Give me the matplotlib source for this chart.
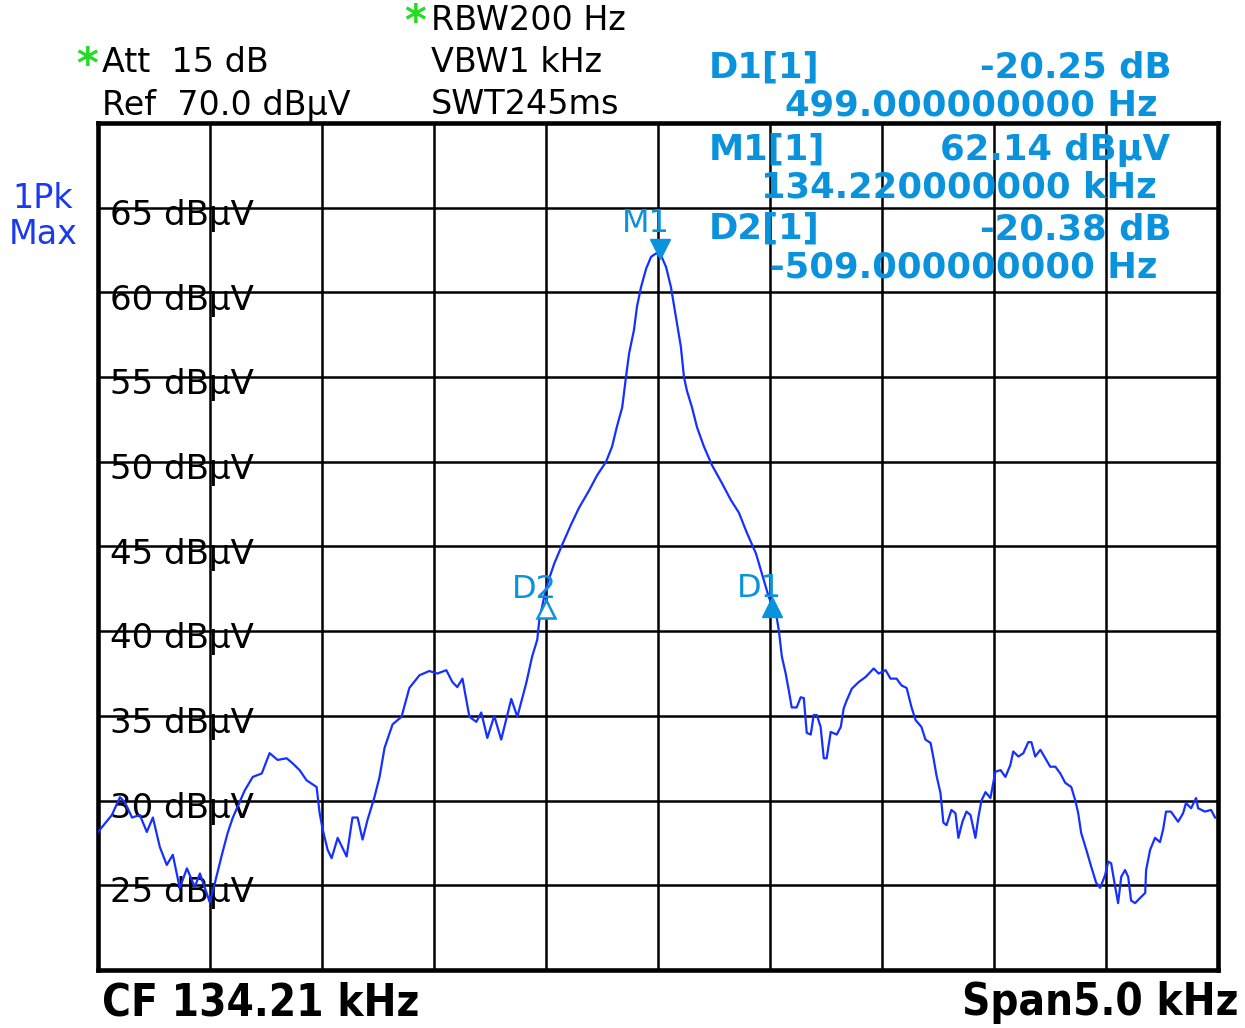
import matplotlib
matplotlib.use("Agg")
import matplotlib.pyplot as plt
import numpy as np

# ---- data ----
center_khz = 134.21
span_khz = 5.0
ref_level = 70.0
y_bottom = 20.0

freq_khz = [
    131.710, 131.772, 131.808, 131.830, 131.862, 131.897, 131.928, 131.955, 131.986, 132.017,
    132.044, 132.075, 132.107, 132.142, 132.165, 132.209, 132.231, 132.263, 132.289, 132.312,
    132.365, 132.401, 132.441, 132.476, 132.512, 132.552, 132.579, 132.610, 132.641, 132.686,
    132.699, 132.713, 132.735, 132.753, 132.780, 132.820, 132.846, 132.869, 132.891, 132.913,
    132.944, 132.967, 132.989, 133.025, 133.065, 133.100, 133.145, 133.189, 133.225, 133.265,
    133.292, 133.314, 133.337, 133.368, 133.399, 133.421, 133.448, 133.479, 133.510, 133.555,
    133.582, 133.622, 133.648, 133.671, 133.680, 133.711, 133.747, 133.782, 133.822, 133.858,
    133.902, 133.938, 133.978, 134.005, 134.027, 134.050, 134.067, 134.081, 134.103, 134.116,
    134.134, 134.157, 134.179, 134.201, 134.223, 134.246, 134.268, 134.290, 134.312, 134.326,
    134.339, 134.362, 134.384, 134.415, 134.451, 134.495, 134.535, 134.571, 134.607, 134.647,
    134.674, 134.705, 134.736, 134.749, 134.763, 134.780, 134.794, 134.807, 134.829, 134.847,
    134.861, 134.874, 134.892, 134.905, 134.919, 134.936, 134.950, 134.963, 134.981, 135.008,
    135.026, 135.039, 135.052, 135.075, 135.106, 135.137, 135.173, 135.195, 135.226, 135.248,
    135.275, 135.297, 135.320, 135.342, 135.360, 135.386, 135.404, 135.427, 135.440, 135.453,
    135.471, 135.484, 135.498, 135.520, 135.538, 135.551, 135.569, 135.587, 135.605, 135.627,
    135.640, 135.654, 135.672, 135.694, 135.716, 135.739, 135.761, 135.783, 135.796, 135.819,
    135.841, 135.863, 135.877, 135.894, 135.917, 135.939, 135.961, 135.984, 136.006, 136.028,
    136.055, 136.073, 136.086, 136.099, 136.122, 136.144, 136.166, 136.184, 136.206, 136.220,
    136.233, 136.251, 136.264, 136.278, 136.295, 136.309, 136.322, 136.340, 136.362, 136.385,
    136.389, 136.407, 136.429, 136.451, 136.465, 136.478, 136.500, 136.532, 136.554, 136.567,
    136.590, 136.612, 136.621, 136.652, 136.679, 136.697,
]
level_dbuv = [
    28.15, 29.15, 30.2, 29.9, 29.0, 29.15, 28.15, 29.0, 27.26, 26.2,
    26.8, 24.84, 26.0, 24.9, 25.7, 24.0, 25.1, 26.8, 28.1, 29.0,
    30.6, 31.4, 31.6, 32.8, 32.4, 32.5, 32.2, 31.8, 31.2, 30.8,
    29.3, 28.3, 27.1, 26.6, 27.8, 26.7, 29.0, 29.0, 27.7, 28.85,
    30.2, 31.4, 33.1, 34.5, 34.95, 36.65, 37.4, 37.65, 37.5, 37.7,
    37.0, 36.7, 37.2, 34.95, 34.65, 35.2, 33.7, 35.0, 33.6, 36.0,
    34.95, 36.95, 38.5, 39.5, 40.65, 42.6, 44.0, 45.1, 46.3, 47.3,
    48.3, 49.2, 50.0, 50.9, 52.1, 53.2, 55.0, 56.4, 57.8, 59.15,
    60.3, 61.4, 62.1, 62.3, 62.2, 61.5, 60.3, 58.55, 56.8, 55.0,
    54.2, 53.2, 52.05, 50.9, 49.8, 48.75, 47.75, 47.0, 45.8, 44.6,
    43.4, 42.0, 41.1, 40.1, 38.5, 37.5, 36.5, 35.5, 35.5, 36.1,
    36.05, 34.0, 33.9, 35.05, 35.05, 34.35, 32.5, 32.5, 34.05, 33.9,
    34.35, 35.45, 35.9, 36.6, 37.0, 37.3, 37.8, 37.5, 37.7, 37.2,
    37.2, 36.8, 36.65, 35.5, 34.75, 34.35, 33.6, 33.4, 32.5, 31.5,
    30.45, 28.7, 28.55, 29.45, 29.25, 27.8, 28.75, 29.35, 29.15, 27.8,
    29.0, 30.0, 30.5, 30.15, 31.7, 31.8, 31.4, 32.1, 32.9, 32.6,
    32.8, 33.45, 33.45, 32.6, 33.0, 32.5, 32.0, 32.0, 31.6, 31.05,
    30.8, 30.0, 29.25, 28.1, 27.1, 26.1, 25.15, 24.85, 25.6, 26.4,
    26.3, 24.9, 23.95, 25.5, 25.9, 25.5, 24.1, 23.95, 24.25, 24.55,
    25.9, 27.1, 27.8, 27.55, 28.3, 29.35, 29.35, 28.75, 29.25, 29.85,
    29.55, 30.15, 29.55, 29.35, 29.45, 29.0,
]

ytick_values = [65, 60, 55, 50, 45, 40, 35, 30, 25]
ytick_labels = ["65 dBµV", "60 dBµV", "55 dBµV", "50 dBµV", "45 dBµV",
                "40 dBµV", "35 dBµV", "30 dBµV", "25 dBµV"]

m1_freq, m1_level = 134.220, 62.14
d1_offset_hz, d1_delta = 499.0, -20.25
d2_offset_hz, d2_delta = -509.0, -20.38

# ---- styles ----
TRACE = "#1530FF"
MARK = "#0A93DC"
BLUE_LBL = "#1A3AF0"

W, H = 1245, 1028
fig = plt.figure(figsize=(W/100, H/100), dpi=100)
ax = fig.add_axes([98/W, 58/H, (1218-98)/W, (970-123)/H])

f_start = center_khz - span_khz/2
f_stop = center_khz + span_khz/2
ax.set_xlim(f_start, f_stop)
ax.set_ylim(y_bottom, ref_level)

for i in range(1, 10):
    ax.axvline(f_start + i*span_khz/10, color="black", lw=1.8, zorder=1)
for v in ytick_values:
    ax.axhline(v, color="black", lw=1.8, zorder=1)
ax.set_xticks([])
ax.set_yticks([])
for s in ax.spines.values():
    s.set_linewidth(3.3)
    s.set_color("black")

for v, lbl in zip(ytick_values, ytick_labels):
    ax.text(0.011, v - 0.45, lbl, transform=ax.get_yaxis_transform(),
            fontsize=24.5, color="black", va="center", ha="left", zorder=2)

ax.plot(freq_khz, level_dbuv, color=TRACE, lw=1.6, zorder=3)

# markers
d1_f = m1_freq + d1_offset_hz/1000
d2_f = m1_freq + d2_offset_hz/1000
ax.plot([m1_freq], [m1_level + 0.45], marker="v", ms=14, color=MARK, zorder=4)
ax.plot([d1_f], [m1_level + d1_delta - 0.45], marker="^", ms=14, color=MARK, zorder=4)
ax.plot([d2_f], [m1_level + d2_delta - 0.45], marker="^", ms=13, mfc="white",
        mec=MARK, mew=1.8, color=MARK, zorder=4)
ax.text(m1_freq - 0.066, m1_level + 1.45, "M1", color=MARK, fontsize=23,
        ha="center", va="baseline", zorder=4)
ax.text(d1_f - 0.058, m1_level + d1_delta + 0.13, "D1", color=MARK, fontsize=23,
        ha="center", va="baseline", zorder=4)
ax.text(d2_f - 0.053, m1_level + d2_delta + 0.2, "D2", color=MARK, fontsize=23,
        ha="center", va="baseline", zorder=4)

# header texts (figure pixel coordinates)
def ftext(x, y, s, **kw):
    fig.text(x/W, 1 - y/H, s, **kw)

hdr = dict(fontsize=24, color="black", va="center", ha="left")
ftext(102, 63, "Att  15 dB", **hdr)
ftext(102, 105, "Ref  70.0 dBµV", **hdr)
ftext(431, 20, "RBW200 Hz", **hdr)
ftext(431, 63, "VBW1 kHz", **hdr)
ftext(431, 105, "SWT245ms", **hdr)
ftext(87, 66, "*", fontsize=30, color="#22DD22", weight="bold", va="center", ha="center")
ftext(415, 23, "*", fontsize=30, color="#22DD22", weight="bold", va="center", ha="center")

ftext(43, 198, "1Pk", fontsize=24, color=BLUE_LBL, va="center", ha="center")
ftext(43, 235, "Max", fontsize=24, color=BLUE_LBL, va="center", ha="center")

mk = dict(fontsize=25.5, color=MARK, weight="bold", va="center", zorder=5)
ftext(709, 68, "D1[1]", ha="left", **mk)
ftext(1172, 68, "-20.25 dB", ha="right", **mk)
ftext(1158, 105, "499.000000000 Hz", ha="right", **mk)
ftext(709, 150, "M1[1]", ha="left", **mk)
ftext(1170, 150, "62.14 dBµV", ha="right", **mk)
ftext(1157, 188, "134.220000000 kHz", ha="right", **mk)
ftext(709, 229, "D2[1]", ha="left", **mk)
ftext(1172, 229, "-20.38 dB", ha="right", **mk)
ftext(1157, 267, "-509.000000000 Hz", ha="right", **mk)

ft = dict(fontsize=31.5, color="black", weight="bold", va="center", fontstretch="condensed")
ftext(102, 1003, "CF 134.21 kHz", ha="left", **ft)
ftext(1238, 1003, "Span5.0 kHz", ha="right", **ft)

fig.savefig("out.png", dpi=100)
